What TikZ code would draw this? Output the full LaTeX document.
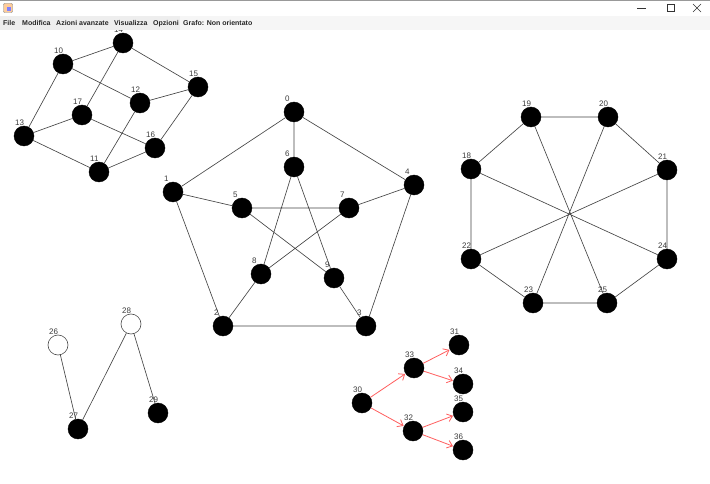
\documentclass[tikz,border=0pt]{standalone}
\usepackage{fontspec}
\setmainfont{Liberation Sans}
\usetikzlibrary{arrows.meta,calc}
\definecolor{edgec}{RGB}{70,70,70}
\definecolor{arrc}{RGB}{255,95,95}
\definecolor{menubg}{RGB}{238,238,238}
\definecolor{menubg2}{RGB}{246,246,246}
\definecolor{lblc}{RGB}{60,60,60}
\tikzset{
  vtx/.style={circle,fill=black,draw=black,minimum size=20pt,inner sep=0pt},
  wvtx/.style={circle,fill=white,draw=black!70,line width=0.6pt,minimum size=20pt,inner sep=0pt},
  lbl/.style={font=\fontsize{8}{8}\selectfont,text=lblc,inner sep=0pt,anchor=base west},
  edge/.style={draw=edgec,line width=0.65pt},
  arc/.style={draw=arrc,line width=0.8pt,-{Straight Barb[length=5pt,width=8pt]},shorten >=0.5pt},
  menu/.style={font=\fontsize{7}{7}\selectfont\bfseries,text=black!85,inner sep=0pt,anchor=base west},
  winctl/.style={draw=black!80,line width=0.6pt}
}
\newcommand{\vx}[5][vtx]{%
  \node[#1] (#2) at (#3,#4) {};
  \node[lbl] (l#2) at ($(#2.center)+(-9,-10.5)$) {#5};
}
\begin{document}
\begin{tikzpicture}[x=1pt,y=-1pt]
\useasboundingbox (0,0) rectangle (710,484);
\fill[white] (0,0) rectangle (710,484);
% cube graph
\vx{n14}{123}{43}{14}
\vx{n10}{63}{64}{10}
\vx{n15}{198}{87}{15}
\vx{n12}{140}{103}{12}
\vx{n17}{82}{115}{17}
\vx{n13}{24}{136}{13}
\vx{n16}{155}{148}{16}
\vx{n11}{99}{172}{11}
% Petersen
\vx{n0}{294}{112}{0}
\vx{n6}{294}{167}{6}
\vx{n1}{173}{192}{1}
\vx{n4}{414}{185}{4}
\vx{n5}{242}{208}{5}
\vx{n7}{349}{208}{7}
\vx{n8}{261}{274}{8}
\vx{n9}{334}{278}{9}
\vx{n2}{223}{326}{2}
\vx{n3}{366}{326}{3}
% octagon
\vx{n19}{531}{117}{19}
\vx{n20}{608}{117}{20}
\vx{n18}{471}{169}{18}
\vx{n21}{667}{170}{21}
\vx{n22}{471}{259}{22}
\vx{n24}{667}{259}{24}
\vx{n23}{533}{303}{23}
\vx{n25}{607}{303}{25}
% small graph
\vx[wvtx]{n26}{58}{345}{26}
\vx[wvtx]{n28}{131}{324}{28}
\vx{n27}{78}{429}{27}
\vx{n29}{158}{413}{29}
% directed tree
\vx{n30}{362}{403}{30}
\vx{n33}{414}{368}{33}
\vx{n32}{413}{431}{32}
\vx{n31}{459}{345}{31}
\vx{n34}{463}{384}{34}
\vx{n35}{463}{412}{35}
\vx{n36}{463}{450}{36}
% edges
\path[edge] (n14) -- (n10) (n14) -- (n15) (n14) -- (n17) (n10) -- (n12)
  (n10) -- (n13) (n15) -- (n12) (n15) -- (n16) (n12) -- (n11)
  (n17) -- (n13) (n17) -- (n16) (n13) -- (n11) (n11) -- (n16);
\path[edge] (n0) -- (n1) (n0) -- (n4) (n0) -- (n6) (n1) -- (n2) (n1) -- (n5)
  (n2) -- (n3) (n2) -- (n8) (n3) -- (n4) (n3) -- (n9) (n4) -- (n7)
  (n5) -- (n7) (n5) -- (n9) (n6) -- (n8) (n6) -- (n9) (n7) -- (n8);
\path[edge] (n19) -- (n20) (n20) -- (n21) (n21) -- (n24) (n24) -- (n25)
  (n25) -- (n23) (n23) -- (n22) (n22) -- (n18) (n18) -- (n19)
  (n19) -- (n25) (n20) -- (n23) (n18) -- (n24) (n21) -- (n22);
\path[edge] (n26) -- (n27) (n28) -- (n27) (n28) -- (n29);
\path[arc] (n30) -- (n33);
\path[arc] (n30) -- (n32);
\path[arc] (n33) -- (n31);
\path[arc] (n33) -- (n34);
\path[arc] (n32) -- (n35);
\path[arc] (n32) -- (n36);
% title bar (drawn last, covers what lies under it)
\fill[white] (0,0) rectangle (710,16);
\draw[black!40,line width=1pt] (0,0.5) -- (710,0.5);
\node[draw=black!50,fill=orange!40,minimum size=9pt,inner sep=0pt,rounded corners=1pt] (icon) at (8,8) {};
\node[fill=blue!50,minimum size=4pt,inner sep=0pt] (iconb) at (9,9) {};
\coordinate (minA) at (637,8.5); \coordinate (minB) at (646,8.5);
\draw[winctl] (minA) -- (minB);
\node[draw=black!80,line width=0.6pt,minimum size=7pt,inner sep=0pt] (maxbox) at (671,8) {};
\coordinate (xa) at (693,4); \coordinate (xb) at (701,12);
\coordinate (xc) at (693,12); \coordinate (xd) at (701,4);
\draw[winctl] (xa) -- (xb) (xc) -- (xd);
% menu bar
\fill[menubg] (0,16) rectangle (180,30);
\fill[menubg2] (180,16) rectangle (710,30);
\node[menu] (mFile) at (3,25.5) {File};
\node[menu] (mMod) at (22,25.5) {Modifica};
\node[menu] (mAz) at (56,25.5) {Azioni avanzate};
\node[menu] (mVis) at (114,25.5) {Visualizza};
\node[menu] (mOpz) at (153,25.5) {Opzioni};
\node[menu] (mGr) at (183,25.5) {Grafo: Non orientato};
\end{tikzpicture}
\end{document}
